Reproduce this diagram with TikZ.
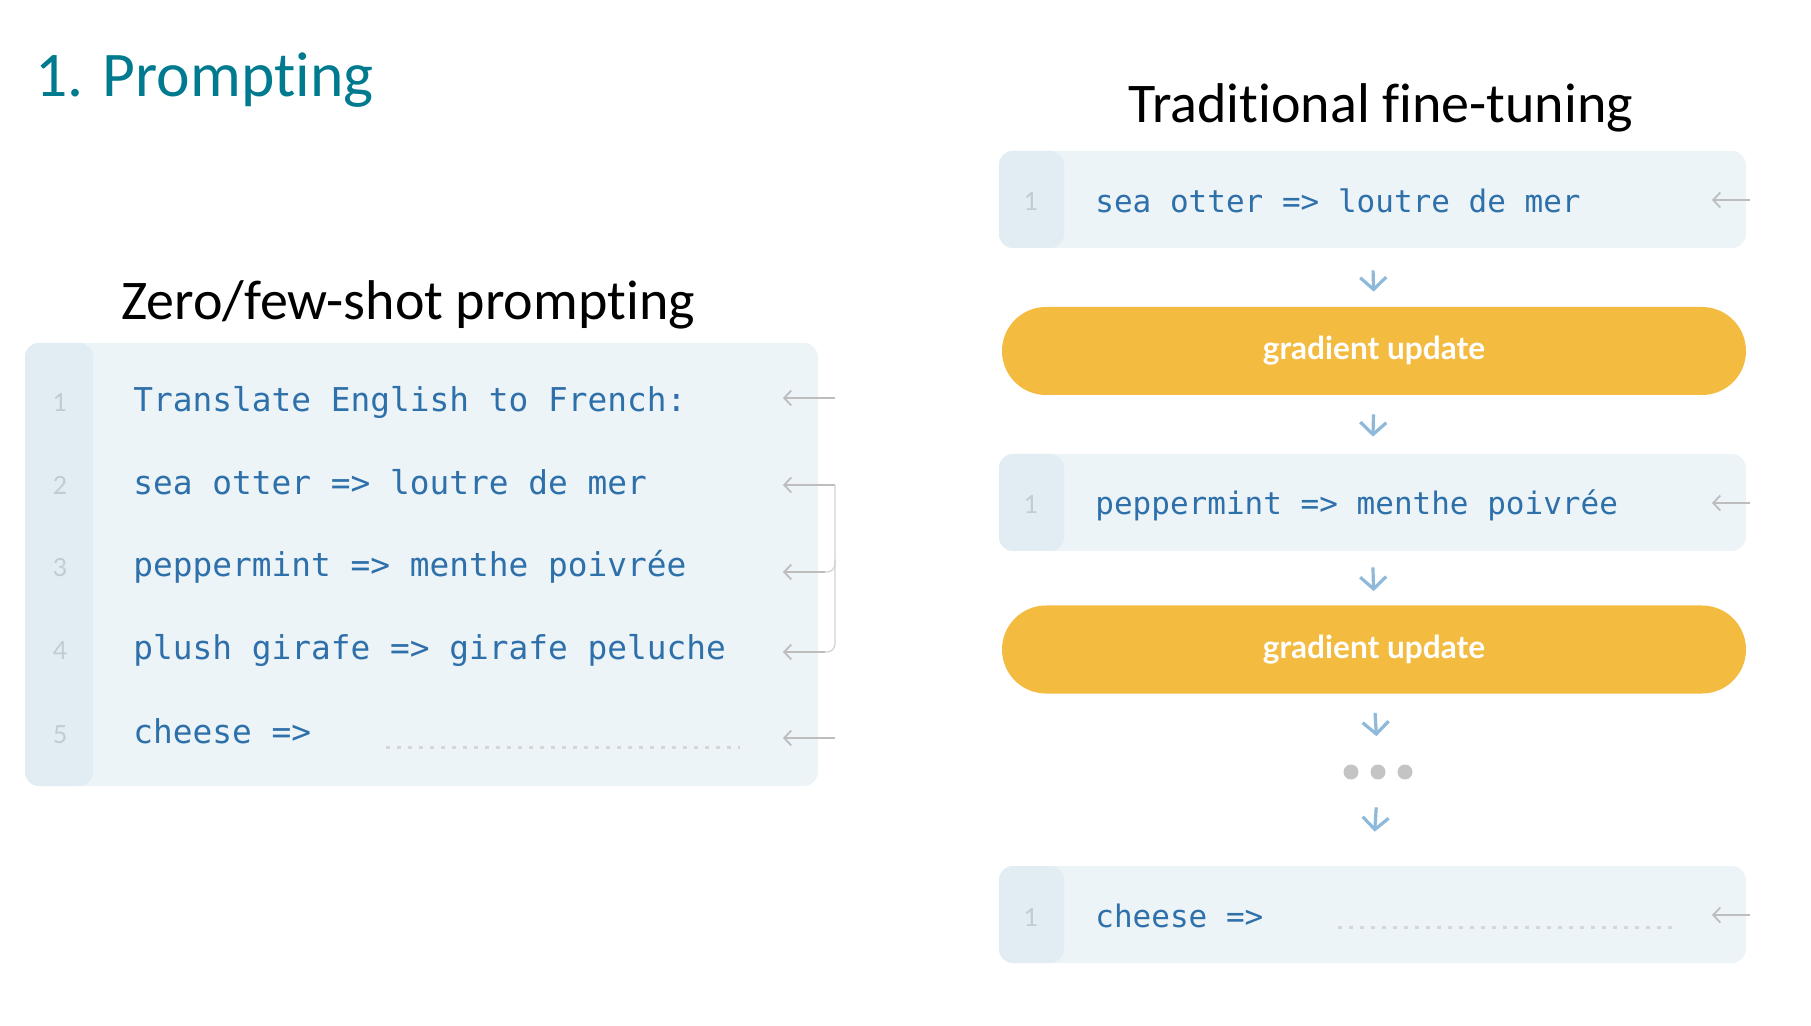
\documentclass[tikz,border=0pt]{standalone}
\usepackage{fontspec}
\setmainfont{Carlito}[Ligatures=NoCommon]
\newfontfamily\monof{DejaVu Sans Mono}
\newfontfamily\numf{Lato}
\newfontfamily\pillf{Lato}
\usetikzlibrary{arrows.meta}
\definecolor{tealt}{HTML}{007A8F}
\definecolor{codebg}{HTML}{EDF4F8}
\definecolor{gutterbg}{HTML}{E2ECF3}
\definecolor{codeblue}{HTML}{2E70AA}
\definecolor{numgray}{HTML}{C4CBD0}
\definecolor{arrgray}{HTML}{BDBDBD}
\definecolor{pillc}{HTML}{F4BB41}
\definecolor{downblue}{HTML}{8EB9DA}
\definecolor{dotgray}{HTML}{C4C4C4}
\definecolor{dotline}{HTML}{D3D7DA}
\begin{document}
\begin{tikzpicture}[x=0.5pt,y=-0.5pt,
  codebox/.style={fill=codebg, rounded corners=7pt, inner sep=0pt, minimum height=48.5pt, minimum width=373.5pt},
  gutter/.style={path picture={\fill[gutterbg] (path picture bounding box.north west) rectangle ([xshift=#1]path picture bounding box.south west);}},
  pill/.style={fill=pillc, rounded corners=22pt, inner sep=0pt, minimum height=44pt, minimum width=372pt, text=white, font=\pillf\bfseries\fontsize{15.8pt}{17pt}\selectfont},
  codetxt/.style={font=\monof\fontsize{16.4pt}{18pt}\selectfont, text=codeblue, anchor=base west, inner sep=0pt},
  rcodetxt/.style={codetxt, font=\monof\fontsize{15.5pt}{17pt}\selectfont},
  numtxt/.style={font=\numf\fontsize{12.5pt}{14pt}\selectfont, text=numgray, anchor=base, inner sep=0pt},
  titletxt/.style={anchor=base west, inner sep=0pt, font=\fontsize{28pt}{32pt}\selectfont},
  grayarr/.style={draw=arrgray, line width=0.9pt, -{Straight Barb[length=3.5pt,width=7.5pt]}},
  bracketline/.style={draw=arrgray!70, line width=0.6pt, rounded corners=4pt},
  downarr/.style={draw=downblue, line width=1.6pt, -{Straight Barb[length=6pt,width=13pt]}},
  dotted line/.style={draw=dotline, line width=1.5pt, dash pattern=on 2.2pt off 3.3pt},
  dotc/.style={circle, fill=dotgray, inner sep=0pt, minimum size=7.5pt}
]
\useasboundingbox (0,0) rectangle (1811,1026);

% titles
\node[anchor=base west, inner sep=0pt, text=tealt, font=\fontsize{31.8pt}{35pt}\selectfont] (title) at (35,97) {1. Prompting};
\node[titletxt] (zeroT) at (121,320) {Zero/few-shot prompting};
\node[titletxt] (tradT) at (1128,123) {Traditional fine-tuning};

% left code box
\node[codebox, minimum width=396.5pt, minimum height=221.5pt, gutter=34pt] (lbox) at (421.5,564.5) {};
\node[numtxt] (n1) at (60,412) {1};
\node[numtxt] (n2) at (60,495) {2};
\node[numtxt] (n3) at (60,577) {3};
\node[numtxt] (n4) at (60,660) {4};
\node[numtxt] (n5) at (60,743) {5};
\node[codetxt] (l1) at (133,412) {Translate English to French:};
\node[codetxt] (l2) at (133,495) {sea otter => loutre de mer};
\node[codetxt] (l3) at (133,577) {peppermint => menthe poivrée};
\node[codetxt] (l4) at (133,660) {plush girafe => girafe peluche};
\node[codetxt] (l5) at (133,743) {cheese =>};
\coordinate (ld1) at (386,747); \coordinate (ld2) at (740,747);
\draw[dotted line] (ld1) -- (ld2);

% left arrows
\coordinate (lt1) at (835,398); \coordinate (lh1) at (783,398);
\coordinate (lt2) at (835,485); \coordinate (lh2) at (783,485);
\coordinate (lt3) at (835,572); \coordinate (lh3) at (783,572);
\coordinate (lt4) at (835,652); \coordinate (lh4) at (783,652);
\coordinate (lt5) at (835,738); \coordinate (lh5) at (783,738);
\draw[grayarr] (lt1) -- (lh1);
\draw[grayarr] (lt2) -- (lh2);
\draw[bracketline] (lt2) -- (lt4) -- (lh4);
\draw[bracketline] ([yshift=6pt]lt3) -- (lt3) -- (lh3);
\draw[grayarr] ([xshift=-5pt]lt3) -- (lh3);
\draw[grayarr] ([xshift=-5pt]lt4) -- (lh4);
\draw[grayarr] (lt5) -- (lh5);

% right column
\node[codebox, gutter=32.5pt] (rb1) at (1372.5,199.5) {};
\node[pill] (p1) at (1374,351) {\raisebox{-4.5pt}[0pt][0pt]{gradient update}};
\node[codebox, gutter=32.5pt] (rb2) at (1372.5,502.5) {};
\node[pill] (p2) at (1374,649.5) {\raisebox{-4.5pt}[0pt][0pt]{gradient update}};
\node[dotc] (d1) at (1351,772) {};
\node[dotc] (d2) at (1378,772) {};
\node[dotc] (d3) at (1405,772) {};
\node[codebox, gutter=32.5pt] (rb3) at (1372.5,914.5) {};

\node[numtxt] (rn1) at (1031,211) {1};
\node[numtxt] (rn2) at (1031,514) {1};
\node[numtxt] (rn3) at (1031,926) {1};
\node[rcodetxt] (r1) at (1095,213) {sea otter => loutre de mer};
\node[rcodetxt] (r2) at (1095,515) {peppermint => menthe poivrée};
\node[rcodetxt] (r3) at (1095,927) {cheese =>};
\coordinate (rd1) at (1338,927); \coordinate (rd2) at (1676,927);
\draw[dotted line] (rd1) -- (rd2);

\coordinate (rt1) at (1750,200); \coordinate (rh1) at (1712,200);
\coordinate (rt2) at (1750,503); \coordinate (rh2) at (1712,503);
\coordinate (rt3) at (1750,915); \coordinate (rh3) at (1712,915);
\draw[grayarr] (rt1) -- (rh1);
\draw[grayarr] (rt2) -- (rh2);
\draw[grayarr] (rt3) -- (rh3);

% down arrows
\draw[downarr, shorten <=11pt, shorten >=7.5pt] (rb1.south) -- (p1.north);
\draw[downarr, shorten <=9.5pt, shorten >=8.5pt] (p1.south) -- (rb2.north);
\draw[downarr, shorten <=8pt, shorten >=7pt] (rb2.south) -- (p2.north);
\draw[downarr, shorten <=9.5pt, shorten >=14pt] (p2.south) -- (d2.north);
\draw[downarr, shorten <=13.75pt, shorten >=17pt] (d2.south) -- (rb3.north);
\end{tikzpicture}
\end{document}
